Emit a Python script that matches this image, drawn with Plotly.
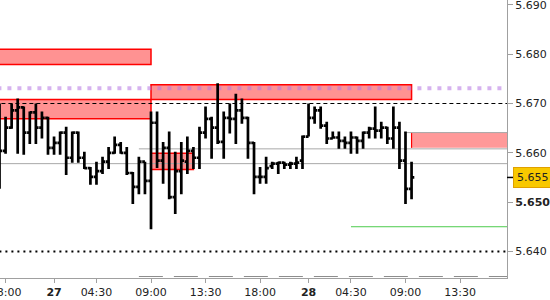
import plotly.graph_objects as go

# bar index (30-minute bars, session gaps removed)
bar_index = list(range(69))

opens = [5.6563, 5.6604, 5.6651, 5.6686, 5.6692, 5.6641, 5.6682, 5.6651, 5.6671, 5.6610,
         5.6620, 5.6641, 5.6590, 5.6641, 5.6590, 5.6569, 5.6551, 5.6563, 5.6582, 5.6600,
         5.6616, 5.6600, 5.6559, 5.6531, 5.6582, 5.6543, 5.6661, 5.6584, 5.6610, 5.6510,
         5.6563, 5.6582, 5.6604, 5.6590, 5.6641, 5.6669, 5.6651, 5.6622, 5.6671, 5.6669,
         5.6686, 5.6671, 5.6620, 5.6551, 5.6551, 5.6573, 5.6578, 5.6580, 5.6576, 5.6578,
         5.6584, 5.6633, 5.6671, 5.6686, 5.6655, 5.6629, 5.6631, 5.6624, 5.6620, 5.6631,
         5.6624, 5.6641, 5.6649, 5.6645, 5.6651, 5.6629, 5.6651, 5.6584, 5.6527]
highs = [5.6700, 5.6673, 5.6700, 5.6710, 5.6694, 5.6684, 5.6700, 5.6684, 5.6673, 5.6633,
         5.6643, 5.6653, 5.6643, 5.6643, 5.6602, 5.6571, 5.6582, 5.6592, 5.6612, 5.6633,
         5.6622, 5.6612, 5.6561, 5.6592, 5.6582, 5.6684, 5.6684, 5.6622, 5.6643, 5.6602,
         5.6622, 5.6633, 5.6612, 5.6653, 5.6694, 5.6673, 5.6741, 5.6684, 5.6700, 5.6720,
         5.6710, 5.6673, 5.6622, 5.6571, 5.6592, 5.6582, 5.6582, 5.6582, 5.6582, 5.6592,
         5.6635, 5.6700, 5.6694, 5.6694, 5.6663, 5.6643, 5.6643, 5.6633, 5.6643, 5.6633,
         5.6643, 5.6653, 5.6694, 5.6663, 5.6653, 5.6694, 5.6663, 5.6643, 5.6582]
lows = [5.6527, 5.6598, 5.6649, 5.6598, 5.6596, 5.6618, 5.6618, 5.6629, 5.6596, 5.6596,
        5.6596, 5.6555, 5.6580, 5.6580, 5.6567, 5.6535, 5.6535, 5.6557, 5.6567, 5.6598,
        5.6598, 5.6555, 5.6496, 5.6516, 5.6516, 5.6445, 5.6569, 5.6537, 5.6506, 5.6476,
        5.6516, 5.6557, 5.6567, 5.6567, 5.6629, 5.6588, 5.6618, 5.6588, 5.6639, 5.6618,
        5.6659, 5.6588, 5.6516, 5.6537, 5.6537, 5.6567, 5.6557, 5.6567, 5.6567, 5.6567,
        5.6567, 5.6633, 5.6659, 5.6649, 5.6618, 5.6629, 5.6608, 5.6608, 5.6598, 5.6598,
        5.6608, 5.6629, 5.6629, 5.6629, 5.6618, 5.6608, 5.6567, 5.6496, 5.6506]
closes = [5.6604, 5.6651, 5.6686, 5.6692, 5.6641, 5.6682, 5.6651, 5.6671, 5.6610, 5.6620,
          5.6641, 5.6590, 5.6641, 5.6590, 5.6569, 5.6551, 5.6563, 5.6582, 5.6600, 5.6616,
          5.6600, 5.6559, 5.6531, 5.6582, 5.6543, 5.6661, 5.6584, 5.6610, 5.6510, 5.6563,
          5.6584, 5.6604, 5.6590, 5.6641, 5.6669, 5.6651, 5.6622, 5.6671, 5.6669, 5.6686,
          5.6671, 5.6620, 5.6551, 5.6551, 5.6569, 5.6578, 5.6580, 5.6576, 5.6578, 5.6580,
          5.6633, 5.6671, 5.6686, 5.6655, 5.6629, 5.6631, 5.6624, 5.6620, 5.6631, 5.6624,
          5.6641, 5.6649, 5.6645, 5.6651, 5.6629, 5.6651, 5.6584, 5.6527, 5.6550]

x_tick_pos = [1, 9, 16, 25, 34, 43, 51, 58, 67, 76]
x_tick_text = ["18:00", "<b>27</b>", "04:30", "09:00", "13:30", "18:00",
               "<b>28</b>", "04:30", "09:00", "13:30"]
y_tick_vals = [5.640, 5.650, 5.660, 5.670, 5.680, 5.690]
y_tick_text = ["5.640", "<b>5.650</b>", "5.660", "5.670", "5.680", "5.690"]

last_price = 5.655

# zones: (x_start, x_end, y_low, y_high)
zones = [(-2, 25, 5.6779, 5.6810),
         (-2, 25, 5.6669, 5.6708),
         (25, 68, 5.6708, 5.6738),
         (25, 32, 5.6566, 5.6599)]
open_zone = (68, 90, 5.6610, 5.6641)

level_dashed = 5.670
level_purple = 5.6731
level_dotted = 5.640
level_gray_full = 5.6578
level_gray_part = (23, 5.6608)
level_gray_top = (66.75, 5.6641)
level_green = (58, 5.645)
level_gray_dash = (23, 5.6349)

XMIN, XMAX = 0.08, 83.75
FONT = "DejaVu Sans"

fig = go.Figure()
fig.add_trace(go.Ohlc(
    x=bar_index, open=opens, high=highs, low=lows, close=closes,
    increasing=dict(line=dict(color="black", width=2.7)),
    decreasing=dict(line=dict(color="black", width=2.7)),
    tickwidth=0.45, hoverinfo="skip", showlegend=False))

shapes = []
for x0, x1, y0, y1 in zones:
    shapes.append(dict(type="rect", xref="x", yref="y", x0=x0, x1=x1, y0=y0, y1=y1,
                       fillcolor="#FF9292", line=dict(color="#FF0000", width=1.5),
                       layer="below"))
shapes.append(dict(type="rect", xref="x", yref="y", x0=open_zone[0], x1=open_zone[1],
                   y0=open_zone[2], y1=open_zone[3], fillcolor="#FF9999",
                   line=dict(width=0), layer="below"))
shapes.append(dict(type="line", xref="x", yref="y", x0=open_zone[0], x1=open_zone[0],
                   y0=open_zone[2], y1=open_zone[3], line=dict(color="#FF0000", width=1.2),
                   layer="below"))

def hline(x0, x1, y, color, width, dash="solid"):
    shapes.append(dict(type="line", xref="x", yref="y", x0=x0, x1=x1, y0=y, y1=y,
                       line=dict(color=color, width=width, dash=dash), layer="below"))

hline(-2, 90, level_purple, "rgba(180,115,225,0.55)", 4, "4px,6px")
hline(-2, 90, level_dashed, "black", 1, "4px,3px")
hline(-2, 90, level_dotted, "black", 2, "2px,4px")
hline(-2, 90, level_gray_full, "#A8A8A8", 1)
hline(level_gray_part[0], 90, level_gray_part[1], "#A8A8A8", 1)
hline(level_gray_top[0], 90, level_gray_top[1], "#A8A8A8", 1)
hline(level_green[0], 90, level_green[1], "#4CCB4C", 1)
hline(level_gray_dash[0], 90, level_gray_dash[1], "#8C8C8C", 1, "24px,11px")

# last price tick on the axis
shapes.append(dict(type="line", xref="paper", yref="y", x0=1, x1=1.012,
                   y0=last_price, y1=last_price, line=dict(color="black", width=1.5)))

fig.update_layout(
    width=550, height=300,
    margin=dict(l=0, r=43, t=0, b=22),
    paper_bgcolor="white", plot_bgcolor="white",
    shapes=shapes,
    font=dict(family=FONT, size=11, color="#222"),
    xaxis=dict(range=[XMIN, XMAX], showgrid=False, zeroline=False,
               showline=True, linecolor="#A0A0A0", linewidth=1,
               ticks="outside", ticklen=4, tickcolor="#A0A0A0",
               tickvals=x_tick_pos, ticktext=x_tick_text,
               ticklabeloverflow="allow", automargin=False,
               tickfont=dict(family=FONT, size=11, color="#222"),
               rangeslider=dict(visible=False), fixedrange=True),
    yaxis=dict(range=[5.6346, 5.6910], side="right", showgrid=False, zeroline=False,
               showline=True, linecolor="#A0A0A0", linewidth=1,
               ticks="outside", ticklen=5, tickcolor="#A0A0A0",
               tickvals=y_tick_vals, ticktext=y_tick_text,
               ticklabeloverflow="allow", automargin=False,
               tickfont=dict(family=FONT, size=11, color="#222"), fixedrange=True),
    annotations=[dict(xref="paper", yref="y", x=1, y=last_price, xanchor="left",
                      yanchor="middle", xshift=6, text=f"{last_price:.3f}",
                      showarrow=False, bgcolor="#F8C800", bordercolor="#E0A000",
                      borderwidth=1, borderpad=3,
                      font=dict(family=FONT, size=11, color="#222"))],
)

fig.write_html("out.html")
